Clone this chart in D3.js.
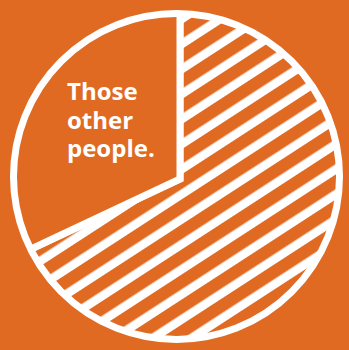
<!DOCTYPE html>
<html>
<head>
<meta charset="utf-8">
<script src="https://cdn.jsdelivr.net/npm/d3@7"></script>
<style>
  html, body { margin: 0; padding: 0; background: #e06a22; }
  svg { display: block; }
</style>
</head>
<body>
<svg id="chart" width="349" height="350"></svg>
<script>
// Slice data (clockwise from 12 o'clock)
var categories = ['', 'Those other people.'];
var values = [68, 32];
var labelLines = ['Those', 'other', 'people.'];

var orange = '#e06a22';
var width = 349, height = 350;
var circleX = 176.5, circleY = 176.5, radius = 163;
var pieX = 180, pieY = 179;

var svg = d3.select('#chart');
svg.append('rect').attr('width', width).attr('height', height).attr('fill', orange);

var defs = svg.append('defs');

// Diagonal white hatching
var pattern = defs.append('pattern')
  .attr('id', 'hatch')
  .attr('patternUnits', 'userSpaceOnUse')
  .attr('width', 21)
  .attr('height', 21)
  .attr('patternTransform', 'rotate(-33)');
pattern.append('rect').attr('width', 21).attr('height', 21).attr('fill', orange);
pattern.append('rect').attr('y', 9.4).attr('width', 21).attr('height', 8.6).attr('fill', '#fff');

defs.append('clipPath').attr('id', 'circleClip')
  .append('circle').attr('cx', circleX).attr('cy', circleY).attr('r', radius);

var data = categories.map(function (c, i) { return { name: c, value: values[i] }; });

var pie = d3.pie().sort(null).value(function (d) { return d.value; });
var arc = d3.arc().innerRadius(0).outerRadius(radius + 15);

var g = svg.append('g')
  .attr('clip-path', 'url(#circleClip)')
  .append('g')
  .attr('transform', 'translate(' + pieX + ',' + pieY + ')');

g.selectAll('path')
  .data(pie(data))
  .enter().append('path')
  .attr('d', arc)
  .attr('fill', function (d, i) { return i === 0 ? 'url(#hatch)' : orange; })
  .attr('stroke', '#fff')
  .attr('stroke-width', 7)
  .attr('stroke-linejoin', 'miter');

// Outer ring
svg.append('circle')
  .attr('cx', circleX).attr('cy', circleY).attr('r', radius)
  .attr('fill', 'none')
  .attr('stroke', '#fff')
  .attr('stroke-width', 7);

// Label for the solid slice
var label = svg.append('text')
  .attr('x', 67)
  .attr('y', 100)
  .attr('fill', '#fff')
  .style('font-family', '"Open Sans", sans-serif')
  .style('font-weight', 'bold')
  .style('font-size', '24px');

label.selectAll('tspan')
  .data(labelLines)
  .enter().append('tspan')
  .attr('x', 67)
  .attr('dy', function (d, i) { return i === 0 ? 0 : 28.5; })
  .text(function (d) { return d; });
</script>
</body>
</html>
